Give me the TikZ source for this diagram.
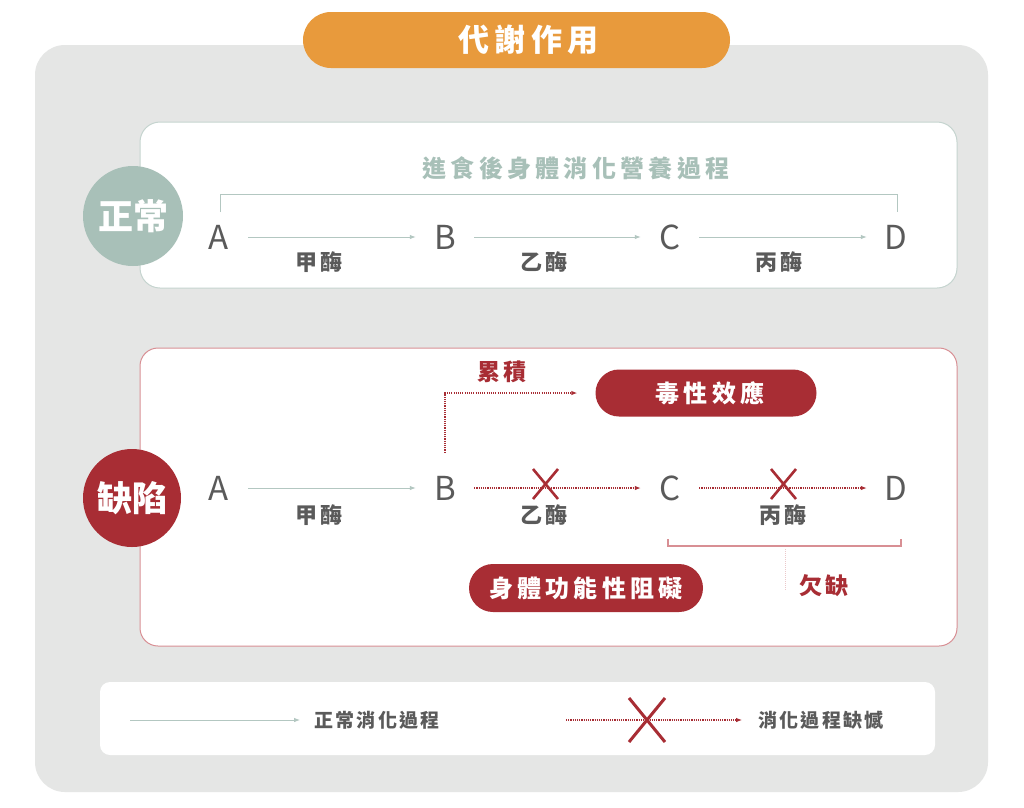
\documentclass[tikz,border=0pt]{standalone}
\usepackage{fontspec}
\setmainfont{Noto Sans CJK TC}
\newfontfamily\cjksp{Noto Sans CJK TC}[LetterSpace=12]
\newfontfamily\cjkwide{Noto Sans CJK TC}[LetterSpace=18]
\usetikzlibrary{arrows.meta,shapes.misc}
\definecolor{bggrey}{HTML}{E5E6E5}
\definecolor{orangeC}{HTML}{E89A3C}
\definecolor{sage}{HTML}{A8C0B8}
\definecolor{redC}{HTML}{A82D34}
\definecolor{txtgrey}{HTML}{5A5A5A}
\definecolor{garr}{HTML}{B3C7C1}
\definecolor{boxg}{HTML}{C5D4CF}
\definecolor{boxr}{HTML}{D88F94}
\definecolor{pinkl}{HTML}{EBC8CA}
\begin{document}
\begin{tikzpicture}[x=1pt,y=-1pt,
  letter/.style={font=\fontsize{33}{33}\selectfont, text=txtgrey, inner sep=0, minimum width=58},
  enz/.style={font=\cjksp\bfseries\fontsize{22}{22}\selectfont, text=txtgrey, inner sep=0},
  redlbl/.style={font=\cjksp\bfseries\fontsize{23}{23}\selectfont, text=redC, inner sep=0},
  pill/.style={rounded rectangle, fill=redC, text=white, font=\cjkwide\bfseries\fontsize{24}{24}\selectfont, inner sep=0},
  badge/.style={circle, text=white, font=\bfseries\fontsize{35}{35}\selectfont, inner sep=0},
  garrow/.style={draw=garr, line width=1, -{Latex[length=6,width=4.5]}},
  rarrow/.style={draw=redC, line width=1.1, dash pattern=on 1.1pt off 1.1pt, -{Latex[length=6,width=4.5]}},
  xmark/.style={draw=redC, line width=2.6},
  legtxt/.style={font=\cjksp\bfseries\fontsize{19}{19}\selectfont, text=txtgrey, inner sep=0}
]
\useasboundingbox (0,0) rectangle (1024,807);
\fill[white] (0,0) rectangle (1024,807);
% outer grey panel
\fill[bggrey, rounded corners=30] (35,45) rectangle (988,792);
% title pill
\node[rounded rectangle, fill=orangeC, text=white, minimum width=427, minimum height=56, inner sep=0,
      font=\cjkwide\bfseries\fontsize{31}{31}\selectfont] (title) at (516.5,40) {\hspace*{24pt}代謝作用};

% ===== normal box =====
\draw[boxg, fill=white, line width=1, rounded corners=20] (140,122) rectangle (957,288);
\node[badge, fill=sage, minimum size=100] (normal) at (133,216) {正常};
\node[font=\cjkwide\bfseries\fontsize{24}{24}\selectfont, text=sage, inner sep=0] (proc) at (576,168) {進食後身體消化營養過程};
\coordinate (bl1) at (220,212);
\coordinate (br1) at (897,212);
\draw[garr, line width=1] (bl1) -- (220,194) -- (897,194) -- (br1);

\node[letter] (A1) at (219,237) {A};
\node[letter] (B1) at (445,237) {B};
\node[letter] (C1) at (670,237) {C};
\node[letter] (D1) at (896,237) {D};
\draw[garrow] (A1) -- (B1);
\draw[garrow] (B1) -- (C1);
\draw[garrow] (C1) -- (D1);
\node[enz] (e11) at (319,262) {甲酶};
\node[enz] (e12) at (544,262) {乙酶};
\node[enz] (e13) at (779,262) {丙酶};

% ===== defect box =====
\draw[boxr, fill=white, line width=1, rounded corners=18] (140,348) rectangle (957,646);
\node[badge, fill=redC, minimum size=98] (defect) at (132,498) {缺陷};

\node[letter] (A2) at (219,488) {A};
\node[letter] (B2) at (445,488) {B};
\node[letter] (C2) at (670,488) {C};
\node[letter] (D2) at (896,488) {D};
\draw[garrow] (A2) -- (B2);
\draw[rarrow] (B2) -- (C2);
\draw[rarrow] (C2) -- (D2);
\draw[xmark] (533,469) -- (558,499) (558,469) -- (533,499);
\draw[xmark] (771,469) -- (796,499) (796,469) -- (771,499);
\node[enz] (e21) at (319,515) {甲酶};
\node[enz] (e22) at (544,515) {乙酶};
\node[enz] (e23) at (783,515) {丙酶};

\node[redlbl] (acc) at (502,372) {累積};
\node[pill, minimum width=221, minimum height=47] (tox) at (706,393) {\hspace*{8pt}毒性效應};
\draw[rarrow, shorten <=23, shorten >=18] (B2.north) |- (tox.west);

\draw[boxr, line width=1.2] (668,539) -- (668,546) -- (901,546) -- (901,539);
\node[redlbl] (lack) at (824,586) {欠缺};
\draw[pinkl, line width=1, dash pattern=on 1pt off 1pt] (785,549) -- (785,590);
\node[pill, minimum width=234, minimum height=48] (func) at (586,588) {身體功能性阻礙};

% ===== legend =====
\fill[white, rounded corners=10] (100,682) rectangle (935,755);
\coordinate (lg1) at (130,720);
\node[legtxt] (lt1) at (377,720) {正常消化過程};
\draw[garrow, shorten >=14] (lg1) -- (lt1.west);
\coordinate (lg2) at (566,720);
\node[legtxt] (lt2) at (821,720) {消化過程缺憾};
\draw[rarrow, shorten >=16] (lg2) -- (lt2.west);
\draw[xmark, line width=3] (629,698) -- (665,742) (665,698) -- (629,742);
\end{tikzpicture}
\end{document}
